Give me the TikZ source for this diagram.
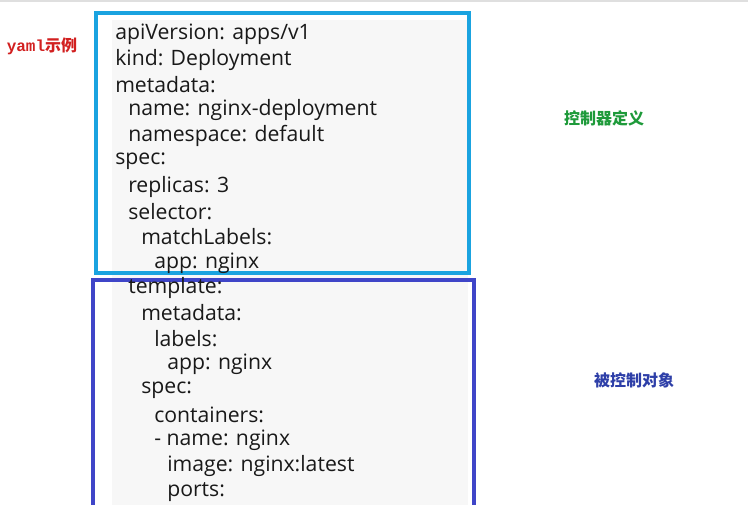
\documentclass[tikz,border=0pt]{standalone}
\usepackage{fontspec}
\setmainfont{Open Sans}
\newfontfamily\cjk{Noto Sans CJK SC}
\newfontfamily\monof{Liberation Mono}
\definecolor{cyanb}{HTML}{1AA3E0}
\definecolor{darkb}{HTML}{3F45C8}
\definecolor{lblred}{HTML}{D22020}
\definecolor{lblgreen}{HTML}{1E9A3A}
\definecolor{lblblue}{HTML}{2E3FA8}
\begin{document}
\begin{tikzpicture}[x=0.75pt,y=-0.75pt,
  code/.style={anchor=west,inner sep=0pt,font=\fontsize{15.9}{18}\selectfont,text=black!90},
  lbl/.style={inner sep=0pt,font=\cjk\bfseries\fontsize{12}{14}\selectfont}]
\useasboundingbox (0,0) rectangle (748,505);
\fill[white] (0,0) rectangle (748,505);
\fill[gray!25] (0,0) rectangle (748,2);
\fill[gray!6] (112,20) rectangle (468,505);
\draw[cyanb,line width=3.2pt] (96,13) rectangle (469,273);
\draw[darkb,line width=3.2pt] (93,280) rectangle (474,510);
\node[lbl,text=lblred] (title) at (42,46) {\monof\bfseries yaml\cjk 示例};
\node[lbl,text=lblgreen] (ctl) at (604,118) {控制器定义};
\node[lbl,text=lblblue] (obj) at (634,380) {被控制对象};
\foreach \t/\x/\y [count=\i] in {
 {apiVersion: apps/v1}/115/34, {kind: Deployment}/115/60, {metadata:}/115/85,
 {name: nginx-deployment}/128/110, {namespace: default}/128/136, {spec:}/115/161,
 {replicas: 3}/128/187, {selector:}/128/212, {matchLabels:}/141/237,
 {app: nginx}/154/263, {template:}/128/288, {metadata:}/141/313,
 {labels:}/154/339, {app: nginx}/167/364, {spec:}/141/390,
 {containers:}/154/415, {- name: nginx}/154/440, {image: nginx:latest}/167/466,
 {ports:}/167/492}
  \node[code] (l\i) at (\x,\y) {\t};
\end{tikzpicture}
\end{document}
